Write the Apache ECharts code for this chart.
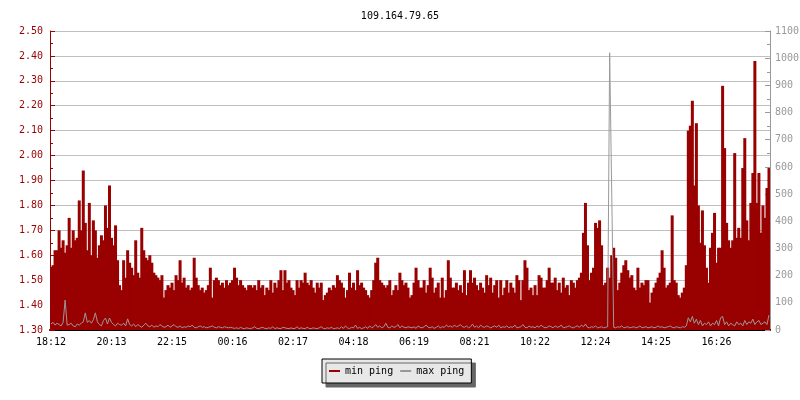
<!DOCTYPE html>
<html>
<head>
<meta charset="utf-8">
<script src="https://cdn.jsdelivr.net/npm/echarts@6/dist/echarts.min.js"></script>
<style>html,body{margin:0;padding:0;background:#fff}#c{width:800px;height:400px}</style>
</head>
<body>
<div id="c"></div>
<script>
const chartTitle = '109.164.79.65';
const timeLabels = ['18:12','20:13','22:15','00:16','02:17','04:18','06:19','08:21','10:22','12:24','14:25','16:26'];
const labelStep = 30;
const leftTicks = { min: 1.3, max: 2.5, step: 0.1 };
const rightTicks = { min: 0, max: 1100, step: 100 };

const minPing = [
1.55,1.56,1.62,1.62,1.70,1.63,1.66,1.61,1.64,1.75,
1.63,1.70,1.66,1.67,1.82,1.70,1.94,1.73,1.62,1.81,
1.60,1.74,1.70,1.59,1.64,1.68,1.66,1.80,1.71,1.88,
1.67,1.64,1.72,1.58,1.48,1.46,1.58,1.51,1.62,1.57,
1.55,1.52,1.66,1.53,1.51,1.71,1.62,1.59,1.58,1.60,
1.57,1.53,1.52,1.51,1.50,1.52,1.43,1.46,1.48,1.47,
1.49,1.46,1.52,1.50,1.58,1.49,1.51,1.47,1.48,1.46,
1.47,1.59,1.51,1.48,1.46,1.47,1.45,1.46,1.48,1.55,
1.43,1.50,1.51,1.50,1.48,1.49,1.47,1.50,1.48,1.49,
1.50,1.55,1.51,1.48,1.50,1.48,1.47,1.46,1.48,1.48,
1.47,1.48,1.46,1.50,1.47,1.48,1.44,1.47,1.46,1.50,
1.45,1.49,1.47,1.50,1.54,1.46,1.54,1.49,1.50,1.47,
1.46,1.44,1.50,1.47,1.50,1.49,1.53,1.49,1.48,1.50,
1.47,1.45,1.49,1.47,1.49,1.42,1.44,1.45,1.47,1.46,
1.48,1.47,1.52,1.50,1.49,1.47,1.43,1.46,1.53,1.47,
1.49,1.46,1.54,1.48,1.49,1.47,1.46,1.44,1.43,1.46,
1.50,1.57,1.59,1.50,1.49,1.48,1.47,1.48,1.50,1.44,
1.46,1.48,1.46,1.53,1.50,1.48,1.49,1.47,1.43,1.44,
1.49,1.55,1.50,1.47,1.47,1.50,1.45,1.48,1.55,1.51,
1.45,1.47,1.49,1.43,1.51,1.43,1.46,1.58,1.51,1.47,
1.47,1.49,1.46,1.48,1.45,1.54,1.44,1.49,1.54,1.49,
1.51,1.48,1.46,1.49,1.47,1.45,1.52,1.48,1.51,1.45,
1.48,1.50,1.43,1.50,1.44,1.47,1.50,1.45,1.49,1.47,
1.45,1.52,1.50,1.42,1.50,1.58,1.55,1.46,1.47,1.44,
1.48,1.44,1.52,1.51,1.47,1.47,1.50,1.55,1.49,1.49,
1.51,1.46,1.49,1.45,1.51,1.47,1.48,1.44,1.50,1.49,
1.47,1.50,1.51,1.53,1.69,1.81,1.64,1.50,1.53,1.55,
1.73,1.71,1.74,1.64,1.48,1.49,1.55,1.51,1.60,1.63,
1.59,1.46,1.49,1.53,1.56,1.58,1.54,1.51,1.52,1.47,
1.46,1.55,1.47,1.49,1.48,1.50,1.50,1.41,1.45,1.47,
1.49,1.51,1.53,1.62,1.55,1.47,1.48,1.49,1.76,1.50,
1.49,1.44,1.43,1.45,1.47,1.56,2.10,2.12,2.22,1.88,
2.13,1.80,1.65,1.78,1.64,1.55,1.49,1.63,1.69,1.77,
1.57,1.63,1.63,2.28,2.03,1.73,1.66,1.63,1.66,2.01,
1.67,1.71,1.67,1.95,2.07,1.74,1.66,1.81,1.93,2.38,
1.81,1.93,1.69,1.80,1.75,1.87,1.95
];

const maxPing = [
22,28,18,25,20,15,28,110,18,20,
25,15,12,22,18,25,30,63,28,35,
25,38,63,30,20,15,35,44,22,44,
28,20,15,25,20,18,25,15,41,20,
15,22,12,20,15,10,18,25,15,12,
18,10,15,12,20,15,10,12,18,10,
15,20,12,10,15,8,12,10,15,12,
18,10,8,12,15,10,12,8,10,12,
15,10,8,12,10,8,12,10,8,10,
8,6,8,5,10,6,5,8,6,5,
8,12,6,5,8,10,6,5,8,6,
12,5,8,6,5,10,8,6,5,8,
5,6,12,5,8,6,5,10,6,5,
8,6,5,8,12,6,5,8,6,10,
5,6,8,5,12,6,15,8,5,10,
8,18,6,10,5,8,12,6,15,8,
12,20,10,15,8,12,25,10,8,15,
10,12,20,8,15,10,8,12,10,8,
12,6,15,10,8,12,18,10,8,12,
6,10,15,8,12,10,18,12,15,10,
18,12,15,20,12,10,15,8,12,22,
10,15,8,18,12,10,15,12,8,12,
15,10,18,8,12,10,15,8,12,10,
18,8,10,12,20,10,8,15,10,12,
8,15,10,18,12,8,10,15,12,8,
15,10,12,18,8,10,12,15,10,8,
12,15,10,18,12,22,10,8,12,10,
15,8,10,12,8,10,12,1020,515,10,
8,12,10,15,8,10,12,8,10,12,
8,10,15,8,10,12,8,10,12,8,
10,15,10,12,8,10,12,15,10,8,
12,10,8,12,10,15,45,30,50,25,
40,20,35,15,25,20,30,15,25,20,
35,15,45,50,20,30,15,25,20,15,
30,20,25,15,35,20,30,25,40,20,
30,35,20,25,30,20,55
];

const FONT = 'DejaVu Sans Mono';
const RED = '#990000';
const GRAY = '#999999';
const categories = minPing.map((_, i) => i);
const showTick = (i) => i % labelStep === 0;

const chart = echarts.init(document.getElementById('c'), null, { renderer: 'canvas' });
chart.setOption({
  animation: false,
  backgroundColor: '#ffffff',
  title: {
    text: chartTitle, left: 'center', top: 6,
    textStyle: { fontFamily: FONT, fontSize: 10, fontWeight: 'normal', color: '#000' }
  },
  legend: {
    data: ['min ping', 'max ping'],
    left: 322, top: 359,
    icon: 'rect', itemWidth: 11, itemHeight: 2, itemGap: 7,
    padding: [7, 7],
    backgroundColor: '#e8e8e8', borderColor: '#000', borderWidth: 1,
    shadowColor: '#666', shadowOffsetX: 4, shadowOffsetY: 4, shadowBlur: 0.01,
    textStyle: { fontFamily: FONT, fontSize: 10, color: '#000' }
  },
  grid: { left: 50, right: 30, top: 31, bottom: 70, containLabel: false, outerBoundsMode: 'none' },
  xAxis: {
    type: 'category', data: categories, boundaryGap: true,
    axisLine: { lineStyle: { color: '#000', width: 2 } },
    axisTick: { inside: true, length: 4, interval: showTick, alignWithLabel: true, lineStyle: { color: '#000' } },
    axisLabel: {
      interval: showTick, margin: 7,
      formatter: (v, i) => timeLabels[i / labelStep] || '',
      fontFamily: FONT, fontSize: 10, color: '#000'
    },
    splitLine: { show: false }
  },
  yAxis: [
    {
      type: 'value', position: 'left',
      min: leftTicks.min, max: leftTicks.max, interval: leftTicks.step,
      axisLine: { show: true, lineStyle: { color: RED } },
      axisTick: { show: true, inside: true, length: 5, lineStyle: { color: RED } },
      minorTick: { show: true, splitNumber: 2, length: 3, lineStyle: { color: RED } },
      axisLabel: { formatter: (v) => v.toFixed(2), color: RED, fontFamily: FONT, fontSize: 10, margin: 7 },
      splitLine: { show: true, lineStyle: { color: '#c0c0c0', width: 1 } }
    },
    {
      type: 'value', position: 'right',
      min: rightTicks.min, max: rightTicks.max, interval: rightTicks.step,
      axisLine: { show: true, lineStyle: { color: GRAY } },
      axisTick: { show: true, inside: true, length: 5, lineStyle: { color: GRAY } },
      minorTick: { show: true, splitNumber: 2, length: 3, lineStyle: { color: GRAY } },
      axisLabel: { formatter: (v) => String(v), color: GRAY, fontFamily: FONT, fontSize: 10, margin: 5 },
      splitLine: { show: false }
    }
  ],
  series: [
    {
      name: 'min ping', type: 'bar', data: minPing, yAxisIndex: 0,
      barWidth: 3, large: false,
      itemStyle: { color: RED, borderWidth: 0 },
      z: 2
    },
    {
      name: 'max ping', type: 'line', data: maxPing, yAxisIndex: 1,
      symbol: 'none', showSymbol: false,
      itemStyle: { color: GRAY },
      lineStyle: { color: GRAY, width: 1 },
      z: 3
    }
  ]
});
</script>
</body>
</html>
